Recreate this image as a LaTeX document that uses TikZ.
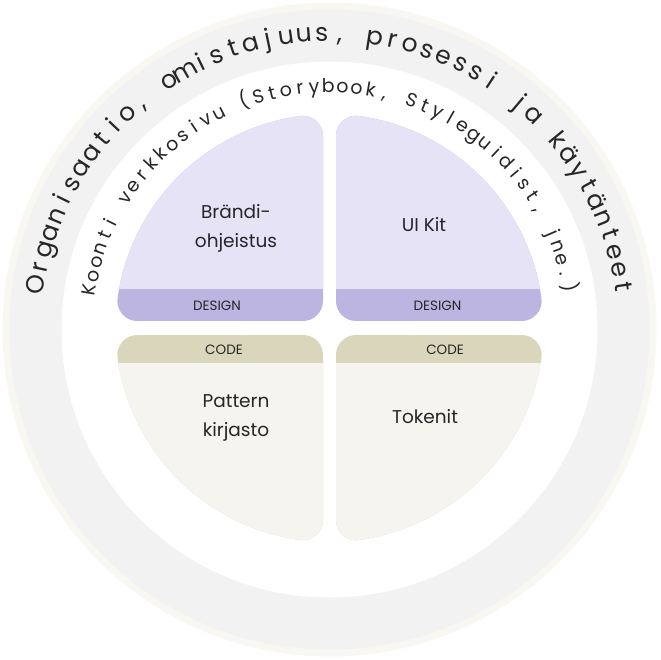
\documentclass[tikz,border=0pt]{standalone}
\usepackage{fontspec}
\setmainfont{Poppins}
\definecolor{ringgray}{HTML}{F2F2F2}
\definecolor{rimcol}{HTML}{F8F7F1}
\definecolor{purplelight}{HTML}{E6E3F7}
\definecolor{purplestrip}{HTML}{BCB4E1}
\definecolor{codestrip}{HTML}{D9D6BB}
\definecolor{creamcol}{HTML}{F5F4EE}
\definecolor{ink}{HTML}{262626}

\newlength\arcwd
\newcount\arcnum
% #1 font, #2 baseline radius, #3 centre angle, #4 angular span, #5 character list, #6 name prefix
\newcommand\arctextline[6]{%
  \global\arcwd=0pt \global\arcnum=0
  \foreach \ch in {#5}{\setbox0=\hbox{#1\ch}\global\advance\arcwd by \wd0 \global\advance\arcnum by 1 }%
  \pgfmathsetmacro\arctrack{(#4*pi/180*#2 - \the\arcwd)/(\the\arcnum-1)}%
  \gdef\arcpos{0}%
  \foreach \ch [count=\k] in {#5}{%
    \setbox0=\hbox{#1\ch}%
    \pgfmathsetmacro\arccw{\the\wd0}%
    \pgfmathsetmacro\arcth{#3 + #4/2 - (\arcpos + \arccw/2)/#2*180/pi}%
    \node[arcchar, rotate=\arcth-90] (#6\k) at (\arcth:#2) {#1\ch};%
    \pgfmathsetmacro\arcnext{\arcpos + \arccw + \arctrack}%
    \global\let\arcpos\arcnext
  }%
}
% quadrant inset path: #1 sx, #2 sy, #3 start angle, #4 end angle
\newcommand\quadpath[4]{(#1*26.5, 1.5+#2*27) -- (#1*26.5, 1.5+#2*192.182)
  arc[start angle=#3, end angle=#4, radius=194] -- cycle}

\begin{document}
\begin{tikzpicture}[x=1pt,y=1pt,
  arcchar/.style={inner sep=0pt, anchor=base, text=ink},
  quadshape/.style={line width=40pt, line join=round},
  label/.style={text=ink, inner sep=0pt, align=center, font=\fontsize{18.5}{29}\selectfont},
  tag/.style={text=ink, inner sep=0pt, font=\fontsize{13.5}{15}\selectfont}]
\useasboundingbox (-329.5,-330.5) rectangle (330.5,329.5);
% rings
\fill[rimcol] (0,0) circle (327);
\fill[ringgray] (0,0) circle (320);
\fill[white] (0,0) circle (268);

% top-left quadrant
\filldraw[fill=purplestrip, draw=purplestrip, quadshape] \quadpath{-1}{1}{97.851}{172.0};
\begin{scope}
  \clip (-400,40.5) rectangle (400,400);
  \filldraw[fill=purplelight, draw=purplelight, quadshape] \quadpath{-1}{1}{97.851}{172.0};
\end{scope}
% top-right quadrant
\filldraw[fill=purplestrip, draw=purplestrip, quadshape] \quadpath{1}{1}{82.149}{8.0};
\begin{scope}
  \clip (-400,40.5) rectangle (400,400);
  \filldraw[fill=purplelight, draw=purplelight, quadshape] \quadpath{1}{1}{82.149}{8.0};
\end{scope}
% bottom-left quadrant
\filldraw[fill=codestrip, draw=codestrip, quadshape] \quadpath{-1}{-1}{-97.851}{-172.0};
\begin{scope}
  \clip (-400,-34.5) rectangle (400,-400);
  \filldraw[fill=creamcol, draw=creamcol, quadshape] \quadpath{-1}{-1}{-97.851}{-172.0};
\end{scope}
% bottom-right quadrant
\filldraw[fill=codestrip, draw=codestrip, quadshape] \quadpath{1}{-1}{-82.149}{-8.0};
\begin{scope}
  \clip (-400,-34.5) rectangle (400,-400);
  \filldraw[fill=creamcol, draw=creamcol, quadshape] \quadpath{1}{-1}{-82.149}{-8.0};
\end{scope}

% quadrant labels
\node[label] (brand) at (-93.5,101) {Brändi-\\ohjeistus};
\node[label, anchor=base] (uikit) at (94.5,97.5) {UI Kit};
\node[label] (pattern) at (-93.5,-88) {Pattern\\kirjasto};
\node[label] (tokens) at (95.5,-87) {Tokenit};
\node[tag] (design1) at (-112.5,23.5) {DESIGN};
\node[tag] (design2) at (108,23.5) {DESIGN};
\node[tag] (code1) at (-105.5,-20.5) {CODE};
\node[tag] (code2) at (115.5,-20.5) {CODE};

% arc texts
\arctextline{\fontsize{25}{30}\selectfont}{288.5}{89.8}{163}%
  {O,r,g,a,n,i,s,a,a,t,i,o,{,},~,o,m,i,s,t,a,j,u,u,s,{,},~,p,r,o,s,e,s,s,i,~,j,a,~,k,ä,y,t,ä,n,t,e,e,t}{outer}
\arctextline{\fontsize{19}{22}\selectfont}{237}{90.3}{160.6}%
  {K,o,o,n,t,i,~,v,e,r,k,k,o,s,i,v,u,~,{(},S,t,o,r,y,b,o,o,k,{,},~,S,t,y,l,e,g,u,i,d,i,s,t,{,},~,j,n,e,{.},{)}}{inner}
\end{tikzpicture}
\end{document}
